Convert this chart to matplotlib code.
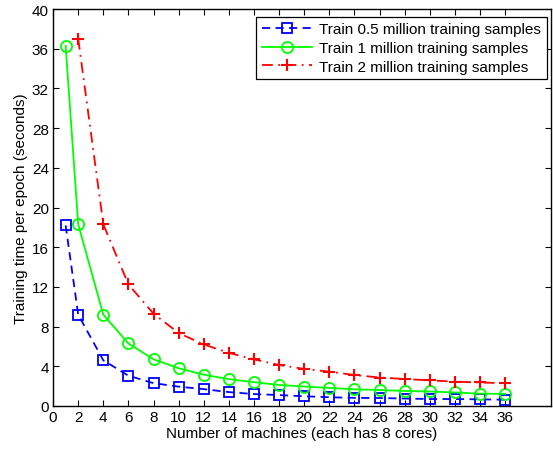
import numpy as np
import matplotlib.pyplot as plt

plt.rcParams['font.family'] = ['Liberation Sans', 'DejaVu Sans']
fonts = 11

# machines used in each run
machines_small = [1, 2, 4, 6, 8, 10, 12, 14, 16, 18, 20, 22, 24, 26, 28, 30, 32, 34, 36]
machines_large = [2, 4, 6, 8, 10, 12, 14, 16, 18, 20, 22, 24, 26, 28, 30, 32, 34, 36]

# seconds per epoch
time_05m = [18.2, 9.2, 4.6, 3.05, 2.3, 1.95, 1.7, 1.4, 1.2, 1.1, 0.98, 0.88, 0.82, 0.8,
            0.75, 0.7, 0.7, 0.67, 0.63]
time_1m = [36.3, 18.3, 9.2, 6.3, 4.7, 3.8, 3.15, 2.7, 2.4, 2.12, 1.96, 1.82, 1.68, 1.61,
           1.51, 1.46, 1.36, 1.24, 1.22]
time_2m = [37.0, 18.3, 12.25, 9.3, 7.35, 6.2, 5.35, 4.7, 4.13, 3.73, 3.46, 3.12, 2.87,
           2.72, 2.58, 2.45, 2.37, 2.29]

labels = ['Train 0.5 million training samples',
          'Train 1 million training samples',
          'Train 2 million training samples']

fig = plt.figure(figsize=(5.53, 4.52), dpi=100)
ax = fig.add_axes([0.096, 0.0996, 0.9004, 0.878])

ax.plot(machines_small, time_05m, color='b', linestyle=(0, (4.5, 3)), linewidth=1.3,
        marker='s', markersize=6.5, markerfacecolor='none', markeredgewidth=1.3,
        label=labels[0])
ax.plot(machines_small, time_1m, color='#00ff00', linestyle='-', linewidth=1.3,
        marker='o', markersize=8, markerfacecolor='none', markeredgewidth=1.3,
        label=labels[1])
ax.plot(machines_large, time_2m, color='r', linestyle=(0, (6, 3, 1, 3)), linewidth=1.3,
        marker='+', markersize=9, markeredgewidth=1.5, label=labels[2])

ax.set_xlim(0, 39.65)
ax.set_ylim(0, 40)
ax.set_xticks(np.arange(0, 37, 2))
ax.set_yticks(np.arange(0, 41, 4))
ax.tick_params(direction='in', top=True, right=True, length=4.5, width=0.8,
               labelsize=fonts, pad=3)
for sp in ax.spines.values():
    sp.set_linewidth(1.0)

ax.set_xlabel('Number of machines (each has 8 cores)', fontsize=fonts, labelpad=1)
ax.set_ylabel('Training time per epoch (seconds)', fontsize=fonts, labelpad=3)

leg = ax.legend(loc='upper right', bbox_to_anchor=(0.9915, 0.981), fontsize=fonts,
                frameon=True, fancybox=False, edgecolor='k', framealpha=1,
                borderaxespad=0, handlelength=3.3, handletextpad=0.45,
                labelspacing=0.3, borderpad=0.38)
leg.get_frame().set_linewidth(0.9)

plt.savefig('out.png', dpi=100)
